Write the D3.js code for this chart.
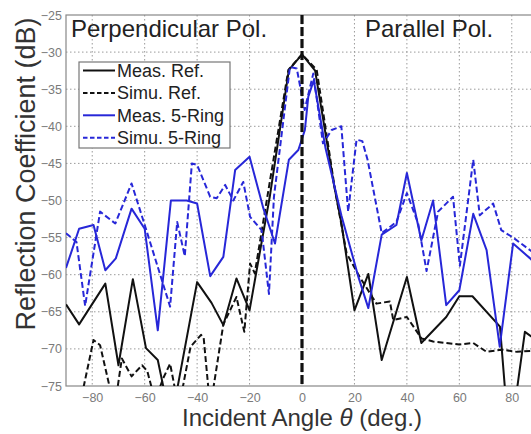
<!DOCTYPE html>
<html>
<head>
<meta charset="utf-8">
<script src="https://cdn.jsdelivr.net/npm/d3@7"></script>
<style>
  body { margin: 0; background: #fff; }
  text { font-family: "Liberation Sans", Arial, Helvetica, sans-serif; }
</style>
</head>
<body>
<div id="chart-area"></div>
<script>
// series data: [incident angle (deg), reflection coefficient (dB)]
const measRef = [[-90,-64.0],[-85,-66.7],[-75,-61.2],[-70,-72.2],[-64.5,-60.6],[-59.5,-69.9],[-55,-71.5],[-50,-80],
  [-40,-61.0],[-34.5,-63.8],[-30,-66.8],[-25,-60.5],[-20,-64.8],[-17.5,-59.8],[-12.3,-49.5],[-5,-32.4],[0,-30.3],
  [5,-32.5],[12,-47.5],[15,-53],[20,-64.8],[25.3,-59.9],[30.4,-71.5],[40,-60.3],[45.5,-69.2],[55,-65.7],[60,-62.9],
  [65,-62.9],[75.5,-67],[78,-78],[81,-78],[85,-67.7],[90,-69]]
const simuRef = [[-90,-82],[-85,-78],[-79.5,-68.8],[-77,-69.5],[-71.5,-78],[-68.7,-71.3],[-65,-73.7],[-61,-72.2],
  [-59,-73],[-56,-77],[-53,-74],[-50.3,-72],[-47,-78],[-42.5,-69.7],[-38.5,-68.1],[-37.5,-68.5],[-35,-78],[-30,-66.7],
  [-25,-63],[-22,-67.7],[-19.8,-58.5],[-18,-59.8],[-12.8,-48.6],[-5.2,-32.4],[0,-30.3],[5.6,-32.4],[12.6,-48.6],
  [17,-57.1],[22,-60.3],[28.4,-63.9],[33.5,-63.6],[34.8,-66.1],[40,-65.7],[45.6,-68.6],[50,-69],[60,-69.4],
  [65.3,-69.2],[70.4,-70.4],[76,-70.1],[82,-70.4],[90,-70.2]]
const meas5Ring = [[-90,-59.1],[-85,-53.8],[-79.5,-53.3],[-75,-59.4],[-71,-57.8],[-65,-51.1],[-60,-53.8],[-55,-67.5],
  [-50,-50],[-44,-50],[-40,-50.4],[-35,-60.2],[-30,-57.6],[-25.5,-45.9],[-20,-44.1],[-14.7,-51.1],[-10.3,-55.8],
  [-5,-44.5],[-1.4,-43.2],[1.1,-40.5],[2.4,-36],[4.5,-33.8],[9,-43],[15,-52],[21.5,-60.3],[25.3,-64.5],[30.4,-54.6],
  [36,-53.3],[40,-46.3],[45.5,-55.4],[50,-50],[55,-64.1],[60,-62.1],[65.3,-51.8],[70.4,-56.7],[75.4,-69.7],
  [80.5,-55.8],[87,-57.8],[90,-59]]
const simu5Ring = [[-90,-54.4],[-86,-55.6],[-82.7,-64.2],[-77,-51.5],[-71.2,-53.1],[-65,-47.7],[-59.8,-53.5],
  [-50.3,-64.3],[-47.6,-52.9],[-44.7,-57.5],[-42,-45],[-40,-45.2],[-35,-49.5],[-32.5,-49.7],[-29.3,-47.9],
  [-26.2,-50],[-22.4,-47.5],[-19.8,-52.2],[-15.4,-54],[-12.6,-62.6],[-10.7,-49.5],[-4.6,-32],[-2,-32.2],[1,-37.8],
  [4.3,-32.9],[8,-42.3],[11.3,-40.5],[15,-40],[17.6,-51.5],[20.8,-41.8],[23,-42],[25,-44.5],[30.4,-54.4],
  [36,-52.9],[40,-49],[44.3,-53.1],[47.5,-59.5],[51.9,-51.5],[57.6,-49.5],[60.2,-58.8],[65.3,-44.5],[67.8,-52],
  [72.9,-50.4],[76,-54],[80.5,-55],[87,-56.7],[90,-57.5]]

const xTicks = [-80, -60, -40, -20, 0, 20, 40, 60, 80]
const yTicks = [-75, -70, -65, -60, -55, -50, -45, -40, -35, -30, -25]
const seriesNames = ["Meas. Ref.", "Simu. Ref.", "Meas. 5-Ring", "Simu. 5-Ring"]

const BLUE = "#2727d8"
const series = [
  { name: seriesNames[0], data: measRef, color: "#111", dash: null, width: 2 },
  { name: seriesNames[1], data: simuRef, color: "#111", dash: "6,3", width: 2 },
  { name: seriesNames[2], data: meas5Ring, color: BLUE, dash: null, width: 2 },
  { name: seriesNames[3], data: simu5Ring, color: BLUE, dash: "6,3", width: 2 }
]

const WIDTH = 531, HEIGHT = 434
const PLOT = { LEFT: 66, RIGHT: 538, TOP: 15, BOTTOM: 386 }

const svg = d3.select("#chart-area").append("svg")
  .attr("width", WIDTH)
  .attr("height", HEIGHT)

const x = d3.scaleLinear().domain([-90, 90]).range([PLOT.LEFT, PLOT.RIGHT])
const y = d3.scaleLinear().domain([-75, -25]).range([PLOT.BOTTOM, PLOT.TOP])

svg.append("clipPath").attr("id", "plot-clip")
  .append("rect")
  .attr("x", PLOT.LEFT).attr("y", PLOT.TOP)
  .attr("width", PLOT.RIGHT - PLOT.LEFT).attr("height", PLOT.BOTTOM - PLOT.TOP)

// Grid
const grid = svg.append("g")
grid.selectAll(".vgrid").data(xTicks).enter().append("line")
  .attr("x1", d => x(d)).attr("x2", d => x(d))
  .attr("y1", PLOT.TOP).attr("y2", PLOT.BOTTOM)
  .attr("stroke", "#9a9a9a").attr("stroke-width", 1).attr("stroke-dasharray", "1.5,2.5")
grid.selectAll(".hgrid").data(yTicks.slice(1, -1)).enter().append("line")
  .attr("x1", PLOT.LEFT).attr("x2", PLOT.RIGHT)
  .attr("y1", d => y(d)).attr("y2", d => y(d))
  .attr("stroke", "#9a9a9a").attr("stroke-width", 1).attr("stroke-dasharray", "1.5,2.5")

// Axes
const xAxisCall = d3.axisBottom(x).tickValues(xTicks).tickSize(0).tickPadding(7)
const xAxis = svg.append("g")
  .attr("transform", `translate(0, ${PLOT.BOTTOM})`)
  .call(xAxisCall)
const yAxisCall = d3.axisLeft(y).tickValues(yTicks).tickSize(0).tickPadding(4)
const yAxis = svg.append("g")
  .attr("transform", `translate(${PLOT.LEFT}, 0)`)
  .call(yAxisCall)
;[xAxis, yAxis].forEach(a => {
  a.select(".domain").remove()
  a.selectAll("text").attr("fill", "#7a7a7a").attr("font-size", "12.5px")
    .attr("font-family", "Liberation Sans, Arial, sans-serif")
})

// frame
svg.append("rect")
  .attr("x", PLOT.LEFT).attr("y", PLOT.TOP)
  .attr("width", PLOT.RIGHT - PLOT.LEFT).attr("height", PLOT.BOTTOM - PLOT.TOP)
  .attr("fill", "none").attr("stroke", "#888").attr("stroke-width", 1.2)

// Lines
const line = d3.line().x(d => x(d[0])).y(d => y(d[1]))
const lines = svg.append("g").attr("clip-path", "url(#plot-clip)")
lines.selectAll("path").data(series).enter().append("path")
  .attr("d", d => line(d.data))
  .attr("fill", "none")
  .attr("stroke", d => d.color)
  .attr("stroke-width", d => d.width)
  .attr("stroke-dasharray", d => d.dash)
  .attr("stroke-linejoin", "round")

// zero-angle divider
svg.append("line")
  .attr("x1", x(0)).attr("x2", x(0))
  .attr("y1", PLOT.TOP).attr("y2", PLOT.BOTTOM)
  .attr("stroke", "#111").attr("stroke-width", 3.2).attr("stroke-dasharray", "9,3")

// region labels
svg.append("text").attr("x", 71).attr("y", 37)
  .attr("font-size", "24px").attr("fill", "#222").text("Perpendicular Pol.")
svg.append("text").attr("x", 365).attr("y", 37)
  .attr("font-size", "24px").attr("fill", "#222").text("Parallel Pol.")

// Legend
const legend = svg.append("g").attr("transform", "translate(79, 62)")
legend.append("rect")
  .attr("width", 151).attr("height", 86)
  .attr("fill", "#fff").attr("stroke", "#777").attr("stroke-width", 1.2)
series.forEach((s, i) => {
  const row = legend.append("g").attr("transform", `translate(0, ${8.5 + i * 22.4})`)
  row.append("line")
    .attr("x1", 4).attr("x2", 36).attr("y1", 0).attr("y2", 0)
    .attr("stroke", s.color).attr("stroke-width", 2).attr("stroke-dasharray", s.dash ? "4.5,2.5" : null)
  row.append("text")
    .attr("x", 38).attr("y", 6.5)
    .attr("font-size", "18px").attr("fill", "#222")
    .text(s.name)
})

// Axis labels
const xLabel = svg.append("text")
  .attr("x", 302).attr("y", 426)
  .attr("text-anchor", "middle")
  .attr("font-size", "24px").attr("fill", "#333")
xLabel.append("tspan").text("Incident Angle ")
xLabel.append("tspan").attr("font-style", "italic").text("θ")
xLabel.append("tspan").text(" (deg.)")
svg.append("text")
  .attr("transform", "rotate(-90)")
  .attr("x", -174).attr("y", 35)
  .attr("text-anchor", "middle")
  .attr("font-size", "27px").attr("fill", "#333")
  .text("Reflection Coefficient (dB)")
</script>
</body>
</html>
